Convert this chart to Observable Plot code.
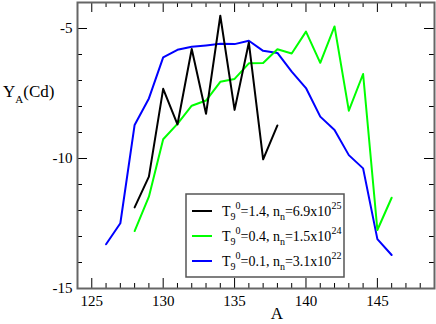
<!DOCTYPE html>
<html><head><meta charset="utf-8">
<script src="https://cdn.jsdelivr.net/npm/d3@7"></script>
<script src="https://cdn.jsdelivr.net/npm/@observablehq/plot@0.6"></script>
<style>body{margin:0;background:#fff} svg{display:block}</style>
</head><body><div id="chart"></div>
<script>
// Data
const aBlack = [128,129,130,131,132,133,134,135,136,137,138];
const yBlack = [-11.88,-10.7,-7.32,-8.69,-5.79,-8.28,-4.51,-8.13,-5.54,-10.03,-8.73];
const aGreen = [128,129,130,131,132,133,134,135,136,137,138,139,140,141,142,143,144,145,146];
const yGreen = [-12.79,-11.47,-9.26,-8.67,-7.97,-7.77,-7.05,-6.94,-6.34,-6.33,-5.80,-5.96,-5.12,-6.32,-4.92,-8.16,-6.75,-12.75,-11.51];
const aBlue = [126,127,128,129,130,131,132,133,134,135,136,137,138,139,140,141,142,143,144,145,146];
const yBlue = [-13.30,-12.49,-8.71,-7.69,-6.11,-5.82,-5.70,-5.65,-5.59,-5.60,-5.47,-5.86,-5.94,-6.66,-7.29,-8.39,-8.90,-9.87,-10.38,-13.10,-13.71];

const seriesColors = ["#000000", "#00ff00", "#0000ff"];
const legendT = ["1.4", "0.4", "0.1"];
const legendN = ["6.9", "1.5", "3.1"];
const legendExp = ["25", "24", "22"];

const xMajor = [125,130,135,140,145];
const xMinor = [126,127,128,129,131,132,133,134,136,137,138,139,141,142,143,144,146,147,148];
const yMajor = [-15,-10,-5];
const yMinor = [-14,-13,-12,-11,-9,-8,-7,-6];

const W = 436, H = 324;
const mL = 77, mR = 2, mT = 2, mB = 36;
const pw = W - mL - mR, ph = H - mT - mB;
const majLen = 10, minLen = 5;

const toRows = (as, ys) => as.map((a, i) => ({a, y: ys[i]}));
const black = toRows(aBlack, yBlack);
const green = toRows(aGreen, yGreen);
const blue = toRows(aBlue, yBlue);

const fmt = d => `${d}`;

const plot = Plot.plot({
  width: W, height: H,
  marginLeft: mL, marginRight: mR, marginTop: mT, marginBottom: mB,
  style: {fontFamily: "'Liberation Serif', 'DejaVu Serif', serif", fontSize: "15px", background: "#fff", color: "#000"},
  x: {domain: [124, 149]},
  y: {domain: [-15, -4]},
  marks: [
    Plot.axisX(xMajor, {tickSize: 0, tickPadding: 7, tickFormat: fmt, label: null, fontSize: 15}),
    Plot.axisY(yMajor, {tickSize: 0, tickPadding: 5, tickFormat: fmt, label: null, fontSize: 15}),
    // inward ticks: bottom / top
    Plot.tickX(xMajor, {x: d => d, insetTop: ph - majLen, stroke: "#000"}),
    Plot.tickX(xMinor, {x: d => d, insetTop: ph - minLen, stroke: "#000"}),
    Plot.tickX(xMajor, {x: d => d, insetBottom: ph - majLen, stroke: "#000"}),
    Plot.tickX(xMinor, {x: d => d, insetBottom: ph - minLen, stroke: "#000"}),
    // inward ticks: left / right
    Plot.tickY(yMajor, {y: d => d, insetRight: pw - majLen, stroke: "#000"}),
    Plot.tickY(yMinor, {y: d => d, insetRight: pw - minLen, stroke: "#000"}),
    Plot.tickY(yMajor, {y: d => d, insetLeft: pw - majLen, stroke: "#000"}),
    Plot.tickY(yMinor, {y: d => d, insetLeft: pw - minLen, stroke: "#000"}),
    Plot.line(blue, {x: "a", y: "y", stroke: seriesColors[2], strokeWidth: 2}),
    Plot.line(green, {x: "a", y: "y", stroke: seriesColors[1], strokeWidth: 2}),
    Plot.line(black, {x: "a", y: "y", stroke: seriesColors[0], strokeWidth: 2}),
    Plot.frame({stroke: "#666", strokeWidth: 2})
  ]
});

const svg = d3.select(plot);
const ff = "'Liberation Serif', 'DejaVu Serif', serif";

// Y axis label
const yl = svg.append("text").attr("x", 3).attr("y", 97).attr("text-anchor", "start")
  .attr("font-family", ff).attr("font-size", 17).attr("fill", "#000");
yl.append("tspan").text("Y");
yl.append("tspan").attr("font-size", 11).attr("dy", 6).text("A");
yl.append("tspan").attr("dy", -6).text("(Cd)");

// X axis label
svg.append("text").attr("x", 277).attr("y", 319).attr("text-anchor", "middle")
  .attr("font-family", ff).attr("font-size", 17).attr("fill", "#000").text("A");

// Legend
const lg = svg.append("g");
lg.append("rect").attr("x", 186).attr("y", 194).attr("width", 158).attr("height", 83)
  .attr("fill", "#fff").attr("stroke", "#555").attr("stroke-width", 1.5);
const baselines = [216, 241, 266];
legendT.forEach((t, i) => {
  const by = baselines[i];
  lg.append("line").attr("x1", 192).attr("x2", 212).attr("y1", by - 5).attr("y2", by - 5)
    .attr("stroke", seriesColors[i]).attr("stroke-width", 2);
  const tx = lg.append("text").attr("x", 222).attr("y", by).attr("text-anchor", "start")
    .attr("font-family", ff).attr("font-size", 14).attr("fill", "#000");
  tx.append("tspan").text("T");
  tx.append("tspan").attr("font-size", 10).attr("dy", 4).text("9");
  tx.append("tspan").attr("font-size", 10).attr("dy", -11).text("0");
  tx.append("tspan").attr("dy", 7).text(`=${t}, n`);
  tx.append("tspan").attr("font-size", 10).attr("dy", 4).text("n");
  tx.append("tspan").attr("dy", -4).text(`=${legendN[i]}x10`);
  tx.append("tspan").attr("font-size", 10).attr("dy", -7).text(legendExp[i]);
});

document.getElementById("chart").appendChild(plot);
</script>
</body></html>
